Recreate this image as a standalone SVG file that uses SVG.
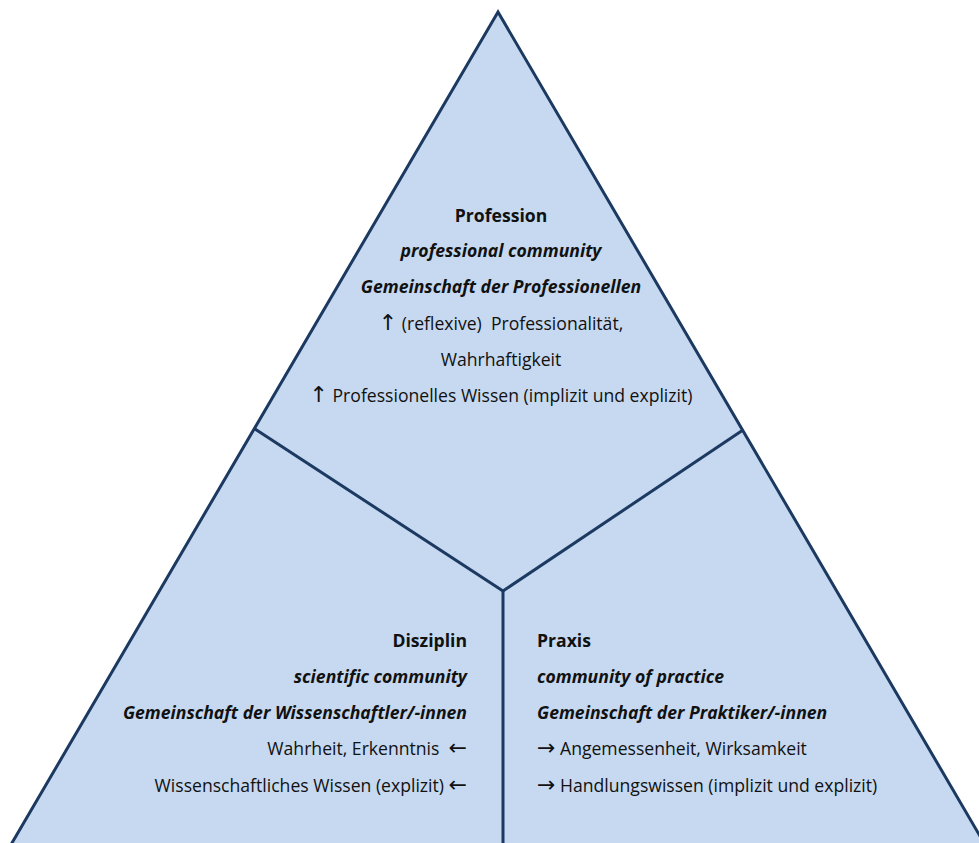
<svg xmlns="http://www.w3.org/2000/svg" width="979" height="843" viewBox="0 0 979 843">
<style>
.tri{fill:#c6d9f0;stroke:#1c3a61;stroke-width:3;stroke-linejoin:miter}
.div{fill:none;stroke:#1c3a61;stroke-width:3}
text{font-family:"Open Sans","DejaVu Sans",sans-serif;font-size:17.6px;fill:#111}
.h{font-weight:bold}
.i{font-weight:bold;font-style:italic}
.c{text-anchor:middle}
.r{text-anchor:end}
.a{font-family:"DejaVu Sans",sans-serif;font-size:22px}
</style>
<rect width="979" height="843" fill="#ffffff"/>
<polygon class="tri" points="498,12 2,860 994,860"/>
<g id="connectors">
<line class="div" x1="255" y1="429" x2="503" y2="591"/>
<line class="div" x1="743" y1="430" x2="503" y2="591"/>
<line class="div" x1="503" y1="591" x2="503" y2="850"/>
</g>
<g id="profession">
<text class="h c" x="501" y="222">Profession</text>
<text class="i c" x="501" y="257">professional community</text>
<text class="i c" x="501" y="293">Gemeinschaft der Professionellen</text>
<text class="c" x="501" y="330" xml:space="preserve"><tspan class="a">↑</tspan> (reflexive)  Professionalität,</text>
<text class="c" x="501" y="366">Wahrhaftigkeit</text>
<text class="c" x="501" y="402"><tspan class="a">↑</tspan> Professionelles Wissen (implizit und explizit)</text>
</g>
<g id="disziplin">
<text class="h r" x="467" y="647">Disziplin</text>
<text class="i r" x="467" y="683">scientific community</text>
<text class="i r" x="467" y="719">Gemeinschaft der Wissenschaftler/-innen</text>
<text class="r" x="467" y="755" xml:space="preserve">Wahrheit, Erkenntnis  <tspan class="a">←</tspan></text>
<text class="r" x="467" y="792">Wissenschaftliches Wissen (explizit) <tspan class="a">←</tspan></text>
</g>
<g id="praxis">
<text class="h" x="537" y="647">Praxis</text>
<text class="i" x="537" y="683">community of practice</text>
<text class="i" x="537" y="719">Gemeinschaft der Praktiker/-innen</text>
<text x="537" y="755"><tspan class="a">→</tspan> Angemessenheit, Wirksamkeit</text>
<text x="537" y="792"><tspan class="a">→</tspan> Handlungswissen (implizit und explizit)</text>
</g>
</svg>
